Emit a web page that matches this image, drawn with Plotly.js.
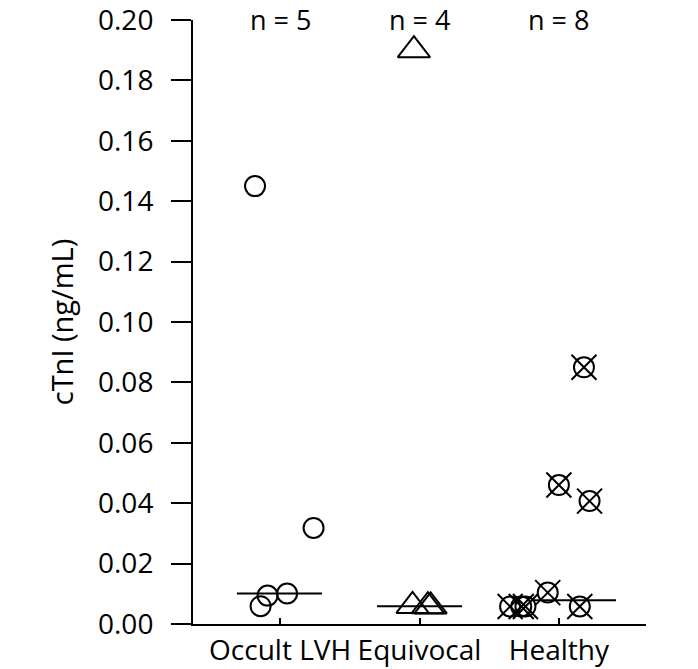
<!DOCTYPE html>
<html>
<head>
<meta charset="utf-8">
<script src="https://cdn.plot.ly/plotly-3.0.1.min.js"></script>
<style>html,body{margin:0;padding:0;background:#fff;}#chart{width:698px;height:669px;}</style>
</head>
<body>
<div id="chart"></div>
<script>
// Categories and labels
const categories = ["Occult LVH", "Equivocal", "Healthy"];
const groupCounts = [5, 4, 8];
const yTickValues = [0, 0.02, 0.04, 0.06, 0.08, 0.10, 0.12, 0.14, 0.16, 0.18, 0.20];
const yTickLabels = ["0.00", "0.02", "0.04", "0.06", "0.08", "0.10", "0.12", "0.14", "0.16", "0.18", "0.20"];

// cTnI values (ng/mL) per group, with horizontal scatter offsets
const lvhValues = [0.145, 0.0318, 0.0059, 0.0094, 0.0101];
const lvhOffsets = [-0.18, 0.24, -0.14, -0.09, 0.05];

const equivocalValues = [0.190, 0.0060, 0.0059, 0.0058];
const equivocalOffsets = [-0.04, -0.05, 0.06, 0.08];

const healthyValues = [0.085, 0.0460, 0.0407, 0.0104, 0.0058, 0.0058, 0.0058, 0.0058];
const healthyOffsets = [0.18, 0.0, 0.22, -0.08, 0.15, -0.35, -0.27, -0.24];

// Median lines (value, left offset, right offset)
const medianValues = [0.0101, 0.0059, 0.0079];
const medianLeft = [-0.31, -0.305, -0.19];
const medianRight = [0.30, 0.305, 0.41];

const FONT = "'Open Sans', 'Noto Sans', sans-serif";

function xs(idx, offs) { return offs.map(o => idx + o); }

const traces = [];

// median lines
medianValues.forEach((m, i) => {
  traces.push({
    x: [i + medianLeft[i], i + medianRight[i]],
    y: [m, m],
    mode: "lines",
    line: {color: "#000", width: 2},
    hoverinfo: "skip",
    showlegend: false
  });
});

traces.push({
  x: xs(0, lvhOffsets), y: lvhValues, mode: "markers", name: categories[0],
  marker: {symbol: "circle-open", size: 20, color: "#000", line: {width: 2, color: "#000"}},
  showlegend: false
});
traces.push({
  x: xs(1, equivocalOffsets), y: equivocalValues, mode: "markers", name: categories[1],
  marker: {symbol: "triangle-up-open", size: 28, color: "#000", line: {width: 2, color: "#000"}},
  showlegend: false
});
traces.push({
  x: xs(2, healthyOffsets), y: healthyValues, mode: "markers", name: categories[2],
  marker: {symbol: "circle-open", size: 20, color: "#000", line: {width: 2, color: "#000"}},
  showlegend: false
});
traces.push({
  x: xs(2, healthyOffsets), y: healthyValues, mode: "markers", name: categories[2],
  marker: {symbol: "x-thin-open", size: 25, color: "#000", line: {width: 2, color: "#000"}},
  showlegend: false, hoverinfo: "skip"
});

const annotations = groupCounts.map((n, i) => ({
  x: i, xref: "x", y: 1.0331, yref: "paper",
  text: "n = " + n, showarrow: false,
  xanchor: "center", yanchor: "top", yshift: 1,
  font: {family: FONT, size: 27, color: "#000"}
}));

const layout = {
  width: 698, height: 669,
  margin: {l: 193, r: 52, t: 20, b: 45, pad: 0},
  paper_bgcolor: "#fff", plot_bgcolor: "#fff",
  font: {family: FONT, size: 28, color: "#000"},
  showlegend: false,
  xaxis: {
    range: [-0.625, 2.625],
    tickmode: "array", tickvals: [0, 1, 2], ticktext: categories,
    showgrid: false, zeroline: false,
    showline: true, linecolor: "#000", linewidth: 2,
    ticks: "inside", ticklen: 6, tickwidth: 2, tickcolor: "#000",
    tickfont: {family: FONT, size: 28, color: "#000"},
    fixedrange: true
  },
  yaxis: {
    range: [0, 0.2],
    tickmode: "array", tickvals: yTickValues, ticktext: yTickLabels,
    showgrid: false, zeroline: false,
    showline: true, linecolor: "#000", linewidth: 2,
    ticks: "outside", ticklen: 20, tickwidth: 2, tickcolor: "#000",
    ticklabelstandoff: 12, ticklabeloverflow: "allow",
    tickfont: {family: FONT, size: 28, color: "#000"},
    title: {text: "cTnI (ng/mL)", font: {family: FONT, size: 29, color: "#000"}, standoff: 16},
    fixedrange: true
  },
  annotations: annotations
};

Plotly.newPlot("chart", traces, layout, {displayModeBar: false, staticPlot: true});
</script>
</body>
</html>
